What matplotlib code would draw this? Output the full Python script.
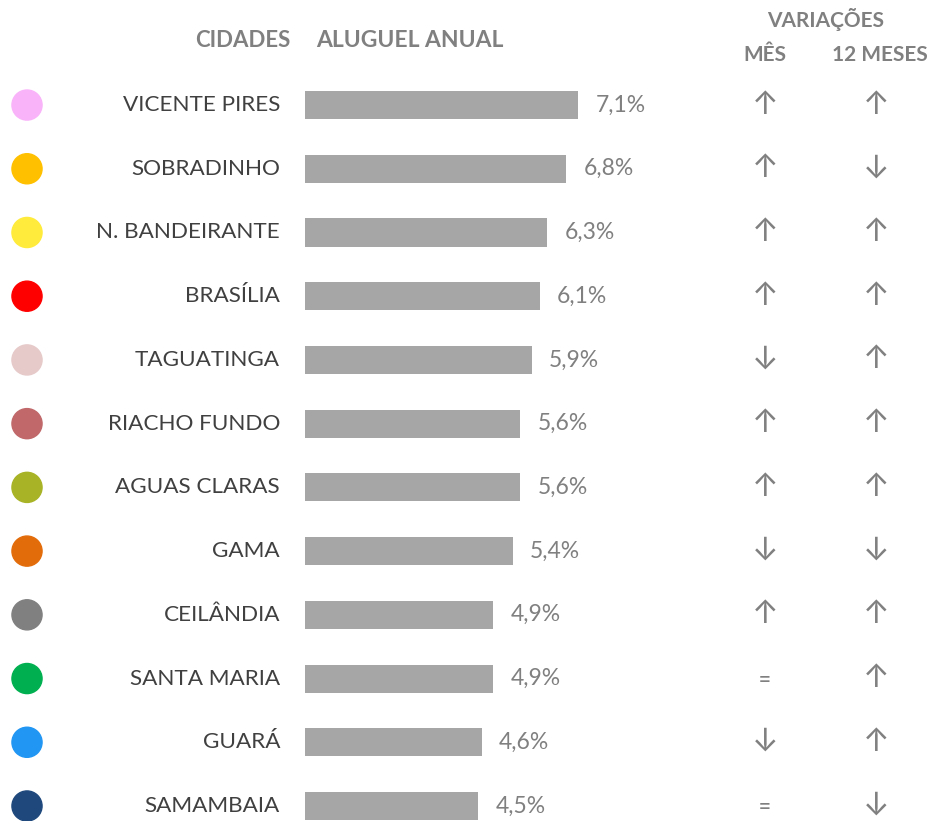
import matplotlib.pyplot as plt

cities = ["VICENTE PIRES", "SOBRADINHO", "N. BANDEIRANTE", "BRASÍLIA", "TAGUATINGA",
          "RIACHO FUNDO", "AGUAS CLARAS", "GAMA", "CEILÂNDIA", "SANTA MARIA",
          "GUARÁ", "SAMAMBAIA"]
values = [7.1, 6.8, 6.3, 6.1, 5.9, 5.6, 5.6, 5.4, 4.9, 4.9, 4.6, 4.5]
dot_colors = ["#F9B4F9", "#FFC000", "#FFEB3B", "#FF0000", "#E6C9C9", "#C0686A",
              "#A8B325", "#E36C0A", "#808080", "#00B050", "#2196F3", "#1F497D"]
var_mes = ["↑", "↑", "↑", "↑", "↓", "↑", "↑", "↓", "↑", "=", "↓", "="]
var_12m = ["↑", "↓", "↑", "↑", "↑", "↑", "↑", "↓", "↑", "↑", "↑", "↓"]

FONT = ["Lato", "DejaVu Sans"]
ARROW_FONT = ["Inter", "DejaVu Sans"]
GREY = "#808080"

fig = plt.figure(figsize=(9.31, 8.21), dpi=100)
ax = fig.add_axes([0, 0, 1, 1])
# one unit of value = 38.45 px, bars start at x=305 px; rows 63.7 px apart
px = 38.45
ax.set_xlim(-305 / px, (931 - 305) / px)
ax.set_ylim(11 + 15 / 63.7, -105 / 63.7)
ax.axis("off")

rows = range(len(cities))
ax.barh(rows, values, height=0.44, color="#A6A6A6")
ax.scatter([-7.23] * len(cities), rows, s=470, c=dot_colors, zorder=3)


def sym(x, y, s):
    size = 15 if s == "=" else 23
    ax.text(x, y, s, ha="center", va="center", fontsize=size,
            color=GREY, family=ARROW_FONT)


for i in rows:
    ax.text(-0.65, i, cities[i], ha="right", va="center", fontsize=16.2,
            color="#404040", family=FONT)
    ax.text(values[i] + 0.45, i, f"{values[i]:.1f}".replace(".", ",") + "%",
            ha="left", va="center", fontsize=16.5, color=GREY, family=FONT)
    sym(11.96, i, var_mes[i])
    sym(14.85, i, var_12m[i])

hdr = dict(color=GREY, fontweight="bold", family=FONT, va="center")
ax.text(-1.61, -1.02, "CIDADES", ha="center", fontsize=16, **hdr)
ax.text(0.29, -1.02, "ALUGUEL ANUAL", ha="left", fontsize=16.5, **hdr)
ax.text(13.55, -1.34, "VARIAÇÕES", ha="center", fontsize=15, **hdr)
ax.text(11.96, -0.785, "MÊS", ha="center", fontsize=15, **hdr)
ax.text(14.95, -0.785, "12 MESES", ha="center", fontsize=15, **hdr)

fig.savefig("out.png", dpi=100, facecolor="white")
